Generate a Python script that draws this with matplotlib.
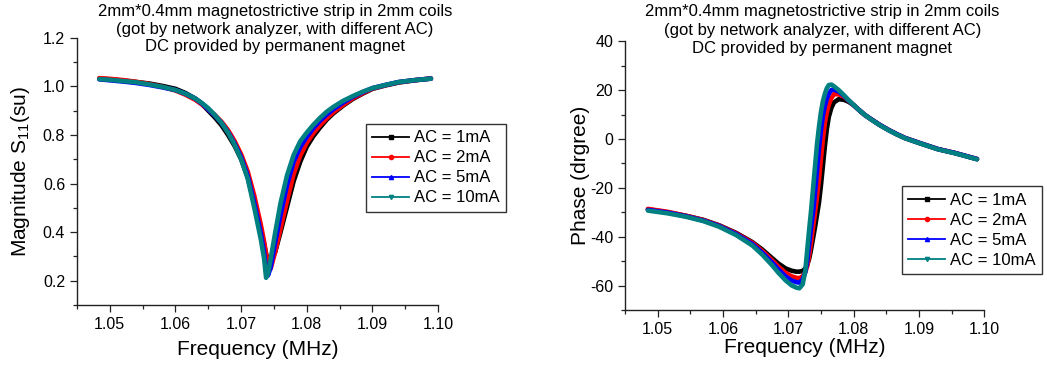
import matplotlib
matplotlib.use("Agg")
import matplotlib.pyplot as plt
from matplotlib.lines import Line2D
from matplotlib.ticker import MultipleLocator, FormatStrFormatter

plt.rcParams['font.family'] = ['Liberation Sans', 'DejaVu Sans']
plt.rcParams['axes.unicode_minus'] = False

labels = ["AC = 1mA", "AC = 2mA", "AC = 5mA", "AC = 10mA"]
colors = ["#000000", "#ff0000", "#0000ff", "#008080"]
markers = ["s", "o", "^", "v"]

title = ("2mm*0.4mm magnetostrictive strip in 2mm coils\n"
         "(got by network analyzer, with different AC)\n"
         "DC provided by permanent magnet")

# magnitude S11 (left)
f_mag = [1.0484, 1.050, 1.052, 1.054, 1.056, 1.058, 1.060, 1.0615, 1.063, 1.064,
         1.065, 1.066, 1.067, 1.068, 1.069, 1.070, 1.071, 1.072, 1.073, 1.0735,
         1.0738, 1.0741, 1.0745, 1.0752, 1.076, 1.077, 1.078, 1.079, 1.080, 1.081,
         1.082, 1.083, 1.084, 1.0855, 1.087, 1.0885, 1.090, 1.092, 1.094, 1.0965,
         1.0989]
mag_1mA = [1.032, 1.029, 1.024, 1.018, 1.012, 1.002, 0.990, 0.973, 0.950, 0.928,
           0.900, 0.872, 0.840, 0.800, 0.755, 0.700, 0.625, 0.520, 0.410, 0.350,
           0.310, 0.280, 0.275, 0.320, 0.400, 0.505, 0.610, 0.690, 0.752, 0.795,
           0.830, 0.862, 0.888, 0.920, 0.948, 0.970, 0.990, 1.004, 1.016, 1.025,
           1.032]
mag_2mA = [1.034, 1.031, 1.026, 1.019, 1.010, 0.998, 0.983, 0.966, 0.945, 0.926,
           0.905, 0.882, 0.855, 0.820, 0.775, 0.720, 0.650, 0.550, 0.430, 0.360,
           0.310, 0.265, 0.250, 0.320, 0.415, 0.530, 0.640, 0.715, 0.768, 0.808,
           0.840, 0.868, 0.893, 0.923, 0.951, 0.972, 0.991, 1.005, 1.017, 1.026,
           1.033]
mag_5mA = [1.029, 1.025, 1.020, 1.014, 1.006, 0.996, 0.985, 0.970, 0.950, 0.930,
           0.905, 0.880, 0.850, 0.812, 0.765, 0.708, 0.632, 0.520, 0.395, 0.315,
           0.250, 0.222, 0.255, 0.360, 0.470, 0.595, 0.690, 0.750, 0.792, 0.828,
           0.858, 0.883, 0.905, 0.933, 0.957, 0.976, 0.993, 1.006, 1.018, 1.026,
           1.032]
mag_10mA = [1.030, 1.027, 1.022, 1.017, 1.008, 0.998, 0.985, 0.970, 0.950, 0.932,
            0.910, 0.882, 0.850, 0.810, 0.760, 0.700, 0.620, 0.500, 0.370, 0.290,
            0.212, 0.230, 0.290, 0.400, 0.520, 0.635, 0.718, 0.774, 0.810, 0.842,
            0.870, 0.895, 0.915, 0.940, 0.960, 0.978, 0.993, 1.006, 1.018, 1.026,
            1.032]

# phase (right)
f_ph = [1.0485, 1.0515, 1.0543, 1.0570, 1.0594, 1.0620, 1.0645, 1.0660, 1.0675, 1.0685,
        1.0696, 1.0705, 1.0712, 1.0717, 1.0722, 1.0726, 1.0729, 1.0732, 1.0735, 1.0738,
        1.0741, 1.0744, 1.0747, 1.0750, 1.0753, 1.0756, 1.0759, 1.0762, 1.0766, 1.0770,
        1.0777, 1.0785, 1.0792, 1.0800, 1.0807, 1.0817, 1.0828, 1.0840, 1.0853, 1.0866,
        1.0879, 1.0904, 1.0929, 1.0955, 1.0989]
ph_1mA = [-28.8, -30.0, -31.4, -33.1, -35.3, -38.4, -42.2, -45.2, -48.7, -51.0,
          -53.0, -53.9, -54.3, -54.3, -54.0, -53.0, -51.5, -49.0, -45.0, -40.5,
          -36.0, -31.0, -26.0, -19.0, -11.0, -3.0, 4.0, 9.0, 12.8, 15.0,
          16.3, 16.1, 15.3, 13.9, 12.2, 9.9, 7.9, 5.8, 3.8, 2.0,
          0.4, -1.9, -4.1, -5.7, -8.2]
ph_2mA = [-28.6, -29.8, -31.4, -33.2, -35.4, -38.6, -42.5, -45.8, -49.6, -52.3,
          -54.8, -56.2, -56.8, -57.0, -56.2, -54.5, -52.0, -47.5, -42.0, -36.0,
          -30.0, -23.5, -16.5, -8.0, 0.0, 6.5, 11.0, 14.0, 16.8, 18.4,
          18.3, 17.4, 15.8, 13.9, 12.2, 9.9, 7.9, 5.8, 3.8, 2.0,
          0.4, -1.9, -4.1, -5.7, -8.2]
ph_5mA = [-29.0, -30.1, -31.6, -33.4, -35.6, -38.9, -43.0, -46.5, -50.5, -53.4,
          -56.3, -57.9, -58.6, -58.8, -57.5, -54.5, -50.0, -43.0, -36.0, -30.0,
          -22.0, -13.0, -4.0, 3.5, 9.5, 13.5, 16.5, 18.5, 20.1, 20.2,
          19.5, 17.8, 15.9, 13.9, 12.2, 9.9, 7.9, 5.8, 3.8, 2.0,
          0.4, -1.9, -4.1, -5.7, -8.2]
ph_10mA = [-29.3, -30.4, -31.8, -33.6, -35.9, -39.3, -43.6, -47.3, -51.6, -54.8,
           -57.9, -59.9, -60.8, -61.1, -59.5, -54.0, -45.4, -37.0, -29.0, -20.0,
           -11.0, -2.0, 5.0, 11.0, 15.5, 18.5, 20.8, 22.1, 22.3, 21.6,
           20.1, 18.0, 16.0, 14.0, 12.2, 9.9, 7.8, 5.7, 3.7, 1.9,
           0.3, -2.0, -4.2, -5.8, -8.3]

mags = [mag_1mA, mag_2mA, mag_5mA, mag_10mA]
phases = [ph_1mA, ph_2mA, ph_5mA, ph_10mA]

fig = plt.figure(figsize=(10.47, 3.66), dpi=100)
ax1 = fig.add_axes([0.0735, 0.1667, 0.345, 0.730])
ax2 = fig.add_axes([0.597, 0.153, 0.343, 0.734])


def style(ax):
    for s in ["top", "right"]:
        ax.spines[s].set_visible(False)
    for s in ["left", "bottom"]:
        ax.spines[s].set_linewidth(1.0)
        ax.spines[s].set_color("#222222")
    ax.tick_params(which="major", direction="out", length=5, width=0.9,
                   labelsize=11.5, color="#222222")
    ax.tick_params(which="minor", direction="out", length=3, width=0.9,
                   color="#222222")
    ax.xaxis.set_major_locator(MultipleLocator(0.01))
    ax.xaxis.set_minor_locator(MultipleLocator(0.005))
    ax.xaxis.set_major_formatter(FormatStrFormatter("%.2f"))
    ax.set_xlim(1.045, 1.10)


for y, c in zip(mags, colors):
    ax1.plot(f_mag, y, color=c, lw=3.3, solid_capstyle="round",
             solid_joinstyle="round")
for y, c in zip(phases, colors):
    ax2.plot(f_ph, y, color=c, lw=3.3, solid_capstyle="round",
             solid_joinstyle="round")

style(ax1)
ax1.set_ylim(0.1, 1.2)
ax1.yaxis.set_major_locator(MultipleLocator(0.2))
ax1.yaxis.set_minor_locator(MultipleLocator(0.1))
ax1.yaxis.set_major_formatter(FormatStrFormatter("%.1f"))
ax1.set_xlabel("Frequency (MHz)", fontsize=15, labelpad=6)
ax1.set_ylabel("Magnitude S$_{\\mathregular{11}}$(su)", fontsize=15, labelpad=8)

style(ax2)
ax2.set_ylim(-70, 40)
ax2.yaxis.set_major_locator(MultipleLocator(20))
ax2.yaxis.set_minor_locator(MultipleLocator(10))
ax2.set_xlabel("Frequency (MHz)", fontsize=15, labelpad=1)
ax2.set_ylabel("Phase (drgree)", fontsize=15, labelpad=0)

fig.text(0.2625, 0.988, title, ha="center", va="top", fontsize=12,
         linespacing=1.2)
fig.text(0.7853, 0.988, title, ha="center", va="top", fontsize=12,
         linespacing=1.28)

handles = [Line2D([], [], color=c, marker=m, markersize=3, lw=1.3)
           for c, m in zip(colors, markers)]
for ax, anchor in [(ax1, (0.3493, 0.662)), (ax2, (0.8612, 0.4918))]:
    leg = ax.legend(handles, labels, loc="upper left", bbox_to_anchor=anchor,
                    bbox_transform=fig.transFigure, fontsize=12, frameon=True,
                    fancybox=False, edgecolor="#333333", framealpha=1,
                    borderaxespad=0, borderpad=0.4, labelspacing=0.3,
                    handlelength=2.2, handletextpad=0.3)
    leg.get_frame().set_linewidth(1.0)

fig.savefig("out.png", dpi=100)
